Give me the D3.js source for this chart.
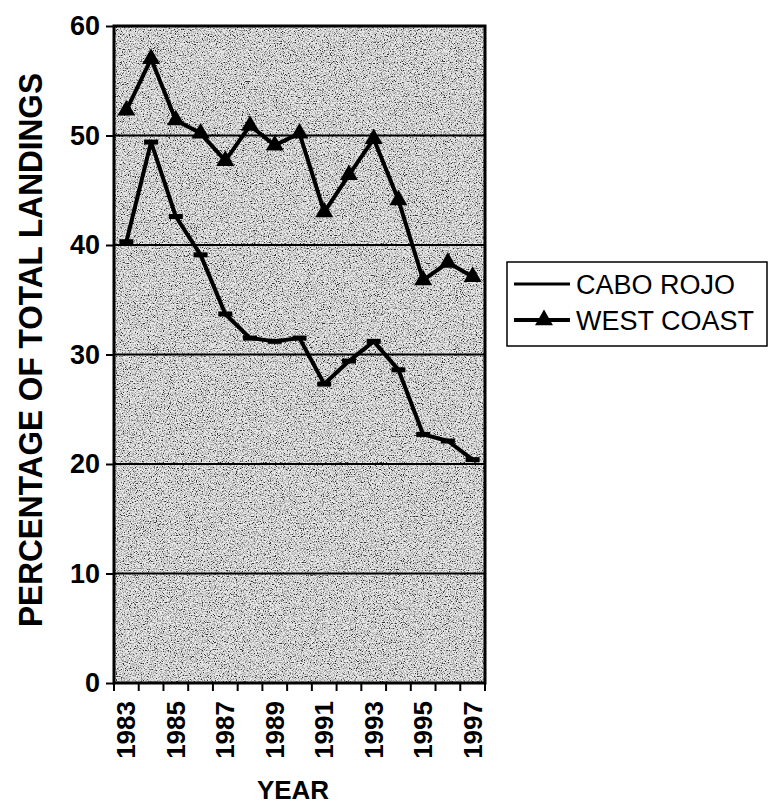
<!DOCTYPE html>
<html>
<head>
<meta charset="utf-8">
<script src="https://cdn.jsdelivr.net/npm/d3@7"></script>
<style>
  body { margin: 0; background: #fff; }
  text { font-family: Arial, "Liberation Sans", sans-serif; fill: #000; }
</style>
</head>
<body>
<div id="graph"></div>
<script>
// data
var years = ["1983","1984","1985","1986","1987","1988","1989","1990",
             "1991","1992","1993","1994","1995","1996","1997"];
var caboRojo  = [40.3, 49.4, 42.6, 39.1, 33.7, 31.5, 31.2, 31.5, 27.3, 29.4, 31.2, 28.6, 22.7, 22.1, 20.4];
var westCoast = [52.3, 57.0, 51.4, 50.2, 47.7, 50.9, 49.1, 50.2, 43.0, 46.4, 49.7, 44.1, 36.8, 38.4, 37.1];
var yTicks = [0, 10, 20, 30, 40, 50, 60];
var xLabels = ["1983","1985","1987","1989","1991","1993","1995","1997"];

var w = 770, h = 804;
var pLeft = 114, pRight = 485, pTop = 26, pBottom = 683;

var vis = d3.select("#graph").append("svg").attr("width", w).attr("height", h);

var x = d3.scaleBand().domain(years).range([pLeft, pRight]).padding(0);
var y = d3.scaleLinear().domain([0, 60]).range([pBottom, pTop]);

// grainy gray background like the photocopy
var defs = vis.append("defs");
var f = defs.append("filter").attr("id", "grain")
  .attr("x", 0).attr("y", 0).attr("width", 1).attr("height", 1);
f.append("feTurbulence").attr("type", "fractalNoise")
  .attr("baseFrequency", 0.85).attr("numOctaves", 3).attr("seed", 7);
f.append("feColorMatrix").attr("type", "matrix")
  .attr("values", "1 0 0 0 0  1 0 0 0 0  1 0 0 0 0  0 0 0 0 1");
var ct = f.append("feComponentTransfer");
["feFuncR","feFuncG","feFuncB"].forEach(function(t) {
  ct.append(t).attr("type", "linear").attr("slope", 3.2).attr("intercept", -0.9);
});

vis.append("rect")
  .attr("x", pLeft).attr("y", pTop)
  .attr("width", pRight - pLeft).attr("height", pBottom - pTop)
  .attr("fill", "#b4b4b4");
vis.append("rect")
  .attr("x", pLeft).attr("y", pTop)
  .attr("width", pRight - pLeft).attr("height", pBottom - pTop)
  .attr("filter", "url(#grain)")
  .attr("opacity", 0.75);

// gridlines
vis.selectAll(".grid").data(yTicks.slice(1, -1)).enter().append("line")
  .attr("class", "grid")
  .attr("x1", pLeft).attr("x2", pRight)
  .attr("y1", function(d) { return y(d); })
  .attr("y2", function(d) { return y(d); })
  .style("stroke", "#000").style("stroke-width", 2);

// y axis
var yAxis = d3.axisLeft(y).tickValues(yTicks).tickSize(8).tickPadding(6);
var gy = vis.append("g").attr("transform", "translate(" + pLeft + ",0)").call(yAxis);
gy.select(".domain").remove();
gy.selectAll(".tick line").style("stroke", "#000").style("stroke-width", 2);
gy.selectAll(".tick text")
  .style("font-size", "27px").style("font-weight", "bold")
  .style("font-family", "Arial, 'Liberation Sans', sans-serif");

// x axis
var xAxis = d3.axisBottom(x).tickSize(0).tickFormat(function(d) {
  return xLabels.indexOf(d) >= 0 ? d : "";
});
var gx = vis.append("g").attr("transform", "translate(0," + pBottom + ")").call(xAxis);
gx.select(".domain").remove();
gx.selectAll(".tick text")
  .attr("transform", "rotate(-90)")
  .attr("x", -18).attr("y", 0).attr("dy", "0.35em")
  .style("text-anchor", "end")
  .style("font-size", "26px").style("font-weight", "bold")
  .style("font-family", "Arial, 'Liberation Sans', sans-serif");

// category boundary ticks
var bounds = years.map(function(d) { return x(d); }).concat([pRight]);
vis.selectAll(".xtick").data(bounds).enter().append("line")
  .attr("class", "xtick")
  .attr("x1", function(d) { return d; }).attr("x2", function(d) { return d; })
  .attr("y1", pBottom).attr("y2", pBottom + 8)
  .style("stroke", "#000").style("stroke-width", 2);

// plot frame
vis.append("rect")
  .attr("x", pLeft).attr("y", pTop)
  .attr("width", pRight - pLeft).attr("height", pBottom - pTop)
  .attr("fill", "none").style("stroke", "#000").style("stroke-width", 3);

// series
var cx = function(d, i) { return x(years[i]) + x.bandwidth() / 2; };
var line = d3.line().x(cx).y(function(d) { return y(d); });

vis.append("path").datum(caboRojo).attr("d", line)
  .attr("fill", "none").style("stroke", "#000").style("stroke-width", 4)
  .style("stroke-linejoin", "round");
vis.append("path").datum(westCoast).attr("d", line)
  .attr("fill", "none").style("stroke", "#000").style("stroke-width", 4)
  .style("stroke-linejoin", "round");

vis.selectAll(".dash").data(caboRojo).enter().append("rect")
  .attr("class", "dash")
  .attr("x", function(d, i) { return cx(d, i) - 7; })
  .attr("y", function(d) { return y(d) - 2.5; })
  .attr("width", 14).attr("height", 5).attr("fill", "#000");

var tri = d3.symbol().type(d3.symbolTriangle).size(140);
vis.selectAll(".tri").data(westCoast).enter().append("path")
  .attr("class", "tri")
  .attr("d", tri)
  .attr("transform", function(d, i) { return "translate(" + cx(d, i) + "," + y(d) + ")"; })
  .attr("fill", "#000");

// axis titles
vis.append("text")
  .attr("transform", "translate(42,350) rotate(-90)")
  .attr("text-anchor", "middle")
  .attr("textLength", 554).attr("lengthAdjust", "spacingAndGlyphs")
  .style("font-size", "33px").style("font-weight", "bold")
  .text("PERCENTAGE OF TOTAL LANDINGS");

vis.append("text")
  .attr("x", 293).attr("y", 799)
  .attr("text-anchor", "middle")
  .style("font-size", "26px").style("font-weight", "bold")
  .text("YEAR");

// legend
var lg = vis.append("g");
lg.append("rect")
  .attr("x", 507).attr("y", 262).attr("width", 260).attr("height", 84)
  .attr("fill", "#fff").style("stroke", "#000").style("stroke-width", 1.5);
var items = [{name: "CABO ROJO", y: 284, tri: false}, {name: "WEST COAST", y: 320, tri: true}];
items.forEach(function(it) {
  lg.append("line")
    .attr("x1", 514).attr("x2", 570).attr("y1", it.y).attr("y2", it.y)
    .style("stroke", "#000").style("stroke-width", it.tri ? 4 : 3);
  if (it.tri) {
    lg.append("path").attr("d", tri)
      .attr("transform", "translate(544," + it.y + ")").attr("fill", "#000");
  }
  lg.append("text")
    .attr("x", 576).attr("y", it.y).attr("dy", "0.36em")
    .style("font-size", "27px")
    .text(it.name);
});
</script>
</body>
</html>
